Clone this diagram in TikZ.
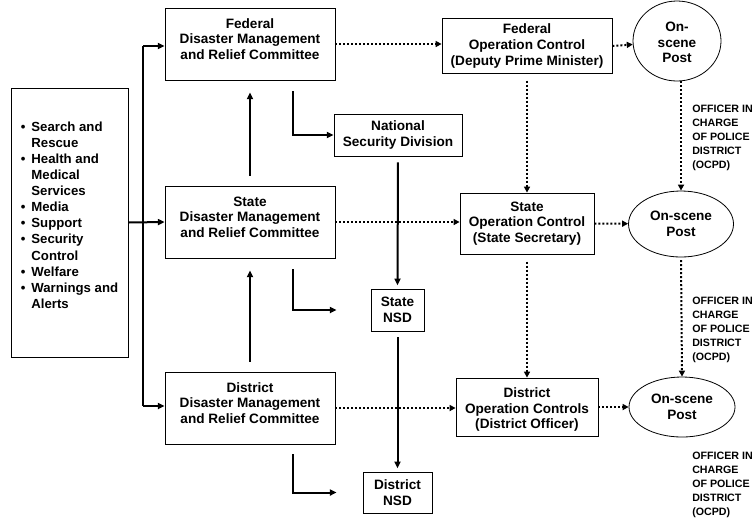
\documentclass[tikz,border=0pt]{standalone}
\usepackage{fontspec}
\setmainfont{Liberation Sans}
\usetikzlibrary{arrows.meta,shapes.geometric,calc}
\newcommand\mystack[1]{\begin{tabular}{@{}c@{}}#1\end{tabular}}
\newcommand\shiftup[2]{\raisebox{#1}[\height][\depth]{#2}}
\begin{document}
\begin{tikzpicture}[x=0.75pt,y=-0.75pt,
  box/.style={draw, line width=0.6pt, inner sep=0pt, align=center,
    font=\bfseries\fontsize{10.2}{11.8}\selectfont},
  wh/.style 2 args={minimum width=#1*0.75pt, minimum height=#2*0.75pt},
  post/.style={ellipse, draw, line width=0.6pt, inner sep=0pt, align=center,
    font=\bfseries\fontsize{10.2}{11.6}\selectfont},
  solidarr/.style={line width=1.5pt, -{Triangle[length=5pt,width=4.5pt]}},
  solidline/.style={line width=1.5pt},
  dotarr/.style={line width=1.5pt, dash pattern=on 1.5pt off 1.5pt,
    -{Triangle[length=4.5pt,width=4.5pt]}},
  ocpd/.style={anchor=west, align=left, inner sep=0pt,
    font=\bfseries\fontsize{8}{10.5}\selectfont}]
\useasboundingbox (0,0) rectangle (755,519);

% left list box
\node[draw, line width=0.6pt, inner sep=0pt, wh={117}{269}] (list) at (69.5,222.5)
  {\shiftup{4.5pt}{\bfseries\fontsize{9.9}{12.1}\selectfont
   \begin{tabular}{@{}c@{\hspace{4.5pt}}l@{}}
   \textbullet & Search and\\
               & Rescue\\
   \textbullet & Health and\\
               & Medical\\
               & Services\\
   \textbullet & Media\\
   \textbullet & Support\\
   \textbullet & Security\\
               & Control\\
   \textbullet & Welfare\\
   \textbullet & Warnings and\\
               & Alerts
   \end{tabular}}};

% committees
\node[box, wh={170}{72}] (fdm) at (250,44) {\shiftup{2.5pt}{\mystack{Federal\\Disaster Management\\and Relief Committee}}};
\node[box, wh={170}{72}] (sdm) at (250,222) {\shiftup{2.5pt}{\mystack{State\\Disaster Management\\and Relief Committee}}};
\node[box, wh={170}{72}] (ddm) at (250,408) {\shiftup{2.5pt}{\mystack{District\\Disaster Management\\and Relief Committee}}};

% security divisions
\node[box, wh={128}{42}] (nsd) at (398,135) {National\\Security Division};
\node[box, wh={53}{42}] (snsd) at (397.5,310) {State\\NSD};
\node[box, wh={69}{41}] (dnsd) at (397.5,492.5) {District\\NSD};

% operation controls
\node[box, wh={170}{55}] (foc) at (527,46) {Federal\\Operation Control\\(Deputy Prime Minister)};
\node[box, wh={134}{61}] (soc) at (527,223.5) {State\\Operation Control\\(State Secretary)};
\node[box, wh={142}{58}] (doc) at (527,407) {\shiftup{-2.25pt}{\mystack{District\\Operation Controls\\(District Officer)}}};

% on-scene posts
\node[post, wh={88}{80}] (fpost) at (677,41) {\shiftup{-2.25pt}{\mystack{On-\\scene\\Post}}};
\node[post, wh={105}{66}] (spost) at (681,224) {On-scene\\Post};
\node[post, wh={106}{60}] (dpost) at (682,407) {On-scene\\Post};

% OCPD labels
\node[ocpd] (l1) at (692,138) {OFFICER IN\\CHARGE\\OF POLICE\\DISTRICT\\(OCPD)};
\node[ocpd] (l2) at (692,330) {OFFICER IN\\CHARGE\\OF POLICE\\DISTRICT\\(OCPD)};
\node[ocpd] (l3) at (692,484.5) {OFFICER IN\\CHARGE\\OF POLICE\\DISTRICT\\(OCPD)};

% bus from list box
\coordinate (bustop) at (143,46);
\coordinate (busbot) at (143,406);
\draw[solidline] (bustop) -- (busbot);
\draw[solidarr] (bustop) -- (bustop -| fdm.west);
\draw[solidarr] (busbot) -- (busbot -| ddm.west);
\draw[solidarr] (list.east) -- (sdm.west);

% upward arrows
\draw[solidarr, shorten <=7.5pt, shorten >=9pt] (sdm.north) -- (fdm.south);
\draw[solidarr, shorten <=7.5pt, shorten >=9pt] (ddm.north) -- (sdm.south);

% L-shaped arrows to NSD boxes
\draw[solidarr] ([xshift=32.25pt,yshift=-8.25pt]fdm.south) |- (nsd.west);
\draw[solidarr, shorten >=25.5pt] ([xshift=32.25pt,yshift=-8.25pt]sdm.south) |- (snsd.west);
\draw[solidarr, shorten >=19.5pt] ([xshift=32.25pt,yshift=-7.5pt]ddm.south) |- (dnsd.west);

% NSD chain
\draw[solidarr, shorten <=4.5pt, shorten >=2.5pt] (nsd.south) -- (snsd.north);
\draw[solidarr, shorten <=4.5pt, shorten >=2.5pt] (snsd.south) -- (dnsd.north);

% dotted: committees to operation controls
\draw[dotarr] (fdm.east) -- (fdm.east -| foc.west);
\draw[dotarr] (sdm.east) -- (sdm.east -| soc.west);
\draw[dotarr] (ddm.east) -- (ddm.east -| doc.west);

% dotted: operation controls to posts
\draw[dotarr] (foc.east) -- (fpost);
\draw[dotarr] (soc.east) -- (spost);
\draw[dotarr] (doc.east) -- (dpost);

% dotted: vertical chains
\draw[dotarr, shorten <=5pt] (foc.south) -- (soc.north);
\draw[dotarr, shorten <=5.5pt] (soc.south) -- (doc.north);
\draw[dotarr] (spost.north |- fpost.south) -- (spost.north);
\draw[dotarr, shorten <=2pt] (spost.south) -- (dpost.north);
\end{tikzpicture}
\end{document}
